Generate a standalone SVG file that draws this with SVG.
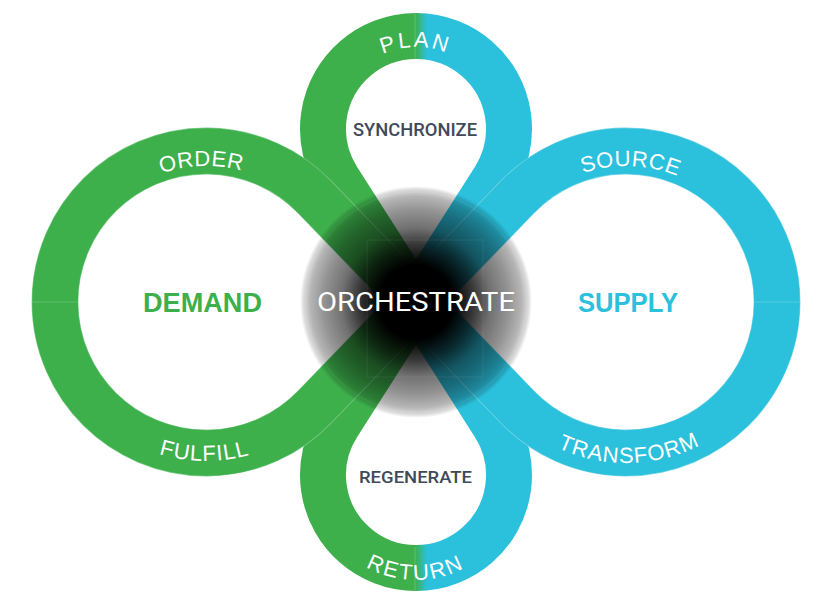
<svg xmlns="http://www.w3.org/2000/svg" xmlns:xlink="http://www.w3.org/1999/xlink" width="832" height="603" viewBox="0 0 832 603">
<style>
.band{fill:none;stroke-width:46;stroke-linejoin:round}
.edge{fill:none;stroke-width:46.8;stroke-linejoin:round}
.bandIn{fill:none;stroke-width:45.6;stroke-linejoin:round}
.arc{font-family:"Liberation Sans",Arial,sans-serif;fill:#ffffff;font-size:22px}
.seam{stroke:#ffffff;stroke-opacity:0.28;stroke-width:0.7}
.inner{font-family:Roboto,"Liberation Sans",Arial,sans-serif;font-weight:500;fill:#3e4a5a;text-anchor:middle}
.big{font-family:"Liberation Sans",Arial,sans-serif;font-weight:bold;font-size:27px;text-anchor:middle}
.faint{fill:none;stroke:#ffffff;stroke-opacity:0.09;stroke-width:0.8}
</style>
<defs>
<linearGradient id="gSplit" gradientUnits="userSpaceOnUse" x1="415" y1="0" x2="427" y2="0">
<stop offset="0" stop-color="#3daf4b"/>
<stop offset="1" stop-color="#2bc0dc"/>
</linearGradient>
<radialGradient id="gCenter" gradientUnits="userSpaceOnUse" cx="416" cy="302" r="116">
<stop offset="0" stop-color="#000" stop-opacity="1"/>
<stop offset="0.32" stop-color="#000" stop-opacity="1"/>
<stop offset="0.5" stop-color="#000" stop-opacity="0.78"/>
<stop offset="0.64" stop-color="#000" stop-opacity="0.56"/>
<stop offset="0.8" stop-color="#000" stop-opacity="0.42"/>
<stop offset="0.91" stop-color="#000" stop-opacity="0.29"/>
<stop offset="0.97" stop-color="#000" stop-opacity="0.14"/>
<stop offset="1" stop-color="#000" stop-opacity="0"/>
</radialGradient>
<path id="pPlan" d="M 334 129 A 82 82 0 0 1 498 129"/>
<path id="pOrder" d="M 70 302 A 136 136 0 0 1 342 302"/>
<path id="pSource" d="M 490 302 A 136 136 0 0 1 762 302"/>
<path id="pFulfill" d="M 47 302 A 159 159 0 0 0 365 302"/>
<path id="pTransform" d="M 465 302 A 161 161 0 0 0 787 302"/>
<path id="pReturn" d="M 313 477 A 103 103 0 0 0 519 477"/>
</defs>
<rect width="832" height="603" fill="#ffffff"/>

<g id="loop-plan">
<path class="band" stroke="url(#gSplit)" d="M 416 302 L 337.6 179 A 93 93 0 1 1 494.4 179 Z"/>
<line class="seam" x1="415" y1="13" x2="415" y2="59"/>
<text class="arc" font-size="21" letter-spacing="2.5" text-anchor="middle"><textPath href="#pPlan" xlink:href="#pPlan" startOffset="128">PLAN</textPath></text>
<text class="inner" x="415" y="136" font-size="17.5" textLength="124" lengthAdjust="spacingAndGlyphs">SYNCHRONIZE</text>
</g>

<g id="loop-return">
<path class="band" stroke="url(#gSplit)" d="M 416 302 L 337.6 425 A 93 93 0 1 0 494.4 425 Z"/>
<line class="seam" x1="415" y1="547" x2="415" y2="593"/>
<text class="arc" font-size="21" letter-spacing="2" text-anchor="middle"><textPath href="#pReturn" xlink:href="#pReturn" startOffset="161">RETURN</textPath></text>
<text class="inner" x="415.5" y="483" font-size="17" textLength="113" lengthAdjust="spacingAndGlyphs">REGENERATE</text>
</g>

<g id="loop-demand">
<path class="edge" stroke="#86cf91" d="M 416 302 L 314.6 197.1 A 151 151 0 1 0 314.6 406.9 Z"/>
<path class="bandIn" stroke="#3daf4b" d="M 416 302 L 314.6 197.1 A 151 151 0 1 0 314.6 406.9 Z"/>
<line class="seam" x1="32" y1="302" x2="77" y2="302"/>
<text class="arc" letter-spacing="0.5" text-anchor="middle"><textPath href="#pOrder" xlink:href="#pOrder" startOffset="209">ORDER</textPath></text>
<text class="arc" letter-spacing="1" text-anchor="middle"><textPath href="#pFulfill" xlink:href="#pFulfill" startOffset="248">FULFILL</textPath></text>
<text class="big" x="202.5" y="312" fill="#3daf4b" textLength="119" lengthAdjust="spacingAndGlyphs">DEMAND</text>
</g>

<g id="loop-supply">
<path class="edge" stroke="#7fd7e8" d="M 416 302 L 517.4 197.1 A 151 151 0 1 1 517.4 406.9 Z"/>
<path class="bandIn" stroke="#2bc0dc" d="M 416 302 L 517.4 197.1 A 151 151 0 1 1 517.4 406.9 Z"/>
<line class="seam" x1="755" y1="302" x2="800" y2="302"/>
<text class="arc" letter-spacing="0.5" text-anchor="middle"><textPath href="#pSource" xlink:href="#pSource" startOffset="218">SOURCE</textPath></text>
<text class="arc" letter-spacing="1" text-anchor="middle"><textPath href="#pTransform" xlink:href="#pTransform" startOffset="256">TRANSFORM</textPath></text>
<text class="big" x="628" y="312" fill="#2bc0dc" textLength="100" lengthAdjust="spacingAndGlyphs">SUPPLY</text>
</g>

<g id="connectors"></g>

<g id="orchestrate">
<circle cx="416" cy="302" r="116" fill="url(#gCenter)"/>
<circle class="faint" cx="416" cy="302" r="110"/>
<rect class="faint" x="367" y="240" width="116" height="137"/>
<text x="416" y="311" font-family="Roboto,'Liberation Sans',Arial,sans-serif" font-size="26" fill="#ffffff" text-anchor="middle" textLength="198" lengthAdjust="spacingAndGlyphs">ORCHESTRATE</text>
</g>
</svg>
